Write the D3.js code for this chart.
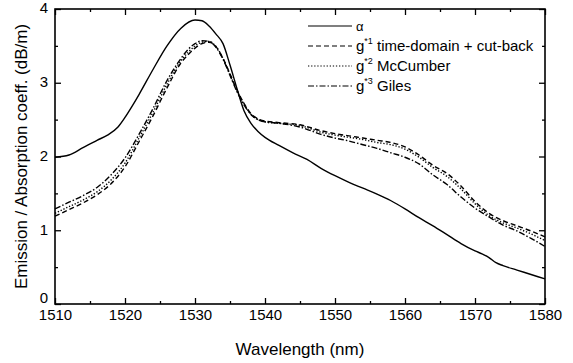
<!DOCTYPE html>
<html>
<head>
<meta charset="utf-8">
<script src="https://cdn.jsdelivr.net/npm/d3@7"></script>
<style>
  body { margin: 0; background: #fff; }
  svg text { font-family: "Liberation Sans", Arial, sans-serif; fill: #000; }
</style>
</head>
<body>
<div class="canvas"></div>
<script>
// wavelength grid of each curve (nm) and values (dB/m)
const alphaX = [1510, 1512, 1514, 1516, 1517.5, 1519, 1520, 1521, 1522, 1524, 1526, 1528, 1530, 1531, 1532, 1533, 1534, 1535, 1536, 1537, 1538, 1539, 1540, 1542, 1544, 1546, 1548, 1550, 1552, 1554, 1556, 1558, 1560, 1562, 1564, 1566, 1568, 1570, 1571, 1572, 1573, 1574, 1576, 1578, 1580];
const alphaY = [1.99, 2.02, 2.12, 2.22, 2.29, 2.40, 2.53, 2.68, 2.84, 3.18, 3.50, 3.74, 3.85, 3.84, 3.77, 3.66, 3.53, 3.24, 2.92, 2.62, 2.45, 2.34, 2.26, 2.15, 2.05, 1.96, 1.84, 1.74, 1.65, 1.57, 1.49, 1.40, 1.29, 1.17, 1.06, 0.94, 0.82, 0.72, 0.68, 0.63, 0.56, 0.52, 0.46, 0.40, 0.34];

const gX = [1510, 1512, 1514, 1516, 1518, 1520, 1522, 1524, 1526, 1528, 1529, 1530, 1531, 1532, 1533, 1534, 1535, 1536, 1537, 1538, 1539, 1540, 1542, 1545, 1548, 1550, 1552, 1554, 1556, 1558, 1560, 1562, 1564, 1566, 1568, 1570, 1572, 1574, 1576, 1578, 1580];
const g1Y = [1.19, 1.28, 1.37, 1.48, 1.63, 1.86, 2.20, 2.55, 2.93, 3.27, 3.38, 3.47, 3.53, 3.55, 3.49, 3.33, 3.12, 2.90, 2.72, 2.58, 2.51, 2.48, 2.46, 2.43, 2.35, 2.31, 2.28, 2.25, 2.22, 2.19, 2.13, 2.02, 1.88, 1.77, 1.60, 1.39, 1.23, 1.13, 1.06, 0.99, 0.91];
const g2Y = [1.23, 1.32, 1.41, 1.52, 1.68, 1.91, 2.25, 2.60, 2.98, 3.30, 3.41, 3.50, 3.55, 3.56, 3.49, 3.33, 3.11, 2.89, 2.71, 2.57, 2.50, 2.47, 2.45, 2.42, 2.33, 2.29, 2.26, 2.23, 2.19, 2.16, 2.10, 1.99, 1.85, 1.73, 1.56, 1.36, 1.20, 1.10, 1.03, 0.95, 0.86];
const g3Y = [1.29, 1.38, 1.47, 1.58, 1.75, 1.98, 2.30, 2.65, 3.03, 3.33, 3.45, 3.53, 3.57, 3.56, 3.48, 3.32, 3.10, 2.88, 2.70, 2.57, 2.50, 2.47, 2.45, 2.40, 2.30, 2.25, 2.21, 2.16, 2.11, 2.05, 1.99, 1.90, 1.75, 1.62, 1.45, 1.30, 1.18, 1.07, 0.99, 0.89, 0.78];

const xTicks = [1510, 1520, 1530, 1540, 1550, 1560, 1570, 1580];
const yTicks = [0, 1, 2, 3, 4];

const legendNames = ["α", "time-domain + cut-back", "McCumber", "Giles"];
const legendSup = ["", "*1", "*2", "*3"];

const svgWidth = 573, svgHeight = 363;
const margin = { top: 9, right: 28, bottom: 59, left: 55 };
const width = svgWidth - margin.left - margin.right;
const height = svgHeight - margin.top - margin.bottom;

const svg = d3.select(".canvas").append("svg")
  .attr("width", svgWidth)
  .attr("height", svgHeight);

const g = svg.append("g")
  .attr("transform", `translate(${margin.left},${margin.top})`);

const xScale = d3.scaleLinear().domain([1510, 1580]).range([0, width]);
const yScale = d3.scaleLinear().domain([0, 4]).range([height, 0]);

const xMinor = d3.range(1515, 1580, 10);
const yMinor = [0.5, 1.5, 2.5, 3.5];

// inward ticks on all four sides
function addAxis(axis, tx, ty) {
  const a = g.append("g").attr("transform", `translate(${tx},${ty})`).call(axis);
  a.select(".domain").remove();
  a.selectAll("line").attr("stroke", "#000").attr("stroke-width", 1.3);
  a.selectAll("text").style("font-size", "15px").attr("fill", "#000");
  return a;
}

addAxis(d3.axisBottom(xScale).tickValues(xTicks).tickSize(-6).tickPadding(5).tickFormat(d3.format("d")), 0, height);
addAxis(d3.axisBottom(xScale).tickValues(xMinor).tickSize(-3).tickFormat(""), 0, height);
addAxis(d3.axisTop(xScale).tickValues(xTicks).tickSize(-6).tickFormat(""), 0, 0);
addAxis(d3.axisTop(xScale).tickValues(xMinor).tickSize(-3).tickFormat(""), 0, 0);
const yAx = addAxis(d3.axisLeft(yScale).tickValues(yTicks).tickSize(-6).tickPadding(7).tickFormat(d3.format("d")), 0, 0);
// the "0" sits a little higher so it clears the 1510 label
yAx.selectAll("text").attr("dy", d => d === 0 ? "-0.1em" : "0.25em");
addAxis(d3.axisLeft(yScale).tickValues(yMinor).tickSize(-3).tickFormat(""), 0, 0);
addAxis(d3.axisRight(yScale).tickValues(yTicks).tickSize(-6).tickFormat(""), width, 0);
addAxis(d3.axisRight(yScale).tickValues(yMinor).tickSize(-3).tickFormat(""), width, 0);

g.append("rect")
  .attr("width", width).attr("height", height)
  .attr("fill", "none").attr("stroke", "#000").attr("stroke-width", 1.6);

// curves
const line = d3.line()
  .x(d => xScale(d[0]))
  .y(d => yScale(d[1]))
  .curve(d3.curveMonotoneX);

const series = [
  { pts: d3.zip(alphaX, alphaY), dash: null },
  { pts: d3.zip(gX, g1Y), dash: "5,3" },
  { pts: d3.zip(gX, g2Y), dash: "1.3,1.8" },
  { pts: d3.zip(gX, g3Y), dash: "6,2,1.5,2" }
];

g.selectAll(".curve")
  .data(series)
  .join("path")
  .attr("class", "curve")
  .attr("d", d => line(d.pts))
  .attr("fill", "none")
  .attr("stroke", "#000")
  .attr("stroke-width", 1.4)
  .attr("stroke-dasharray", d => d.dash);

// legend
const legendX = 308, legendY = 26, legendStep = 20;
const legend = svg.selectAll(".legend")
  .data(series)
  .join("g")
  .attr("class", "legend")
  .attr("transform", (d, i) => `translate(${legendX},${legendY + i * legendStep})`);

legend.append("line")
  .attr("x1", 0).attr("x2", 44)
  .attr("stroke", "#000").attr("stroke-width", 1.2)
  .attr("stroke-dasharray", d => d.dash);

legend.append("text")
  .attr("x", 48).attr("y", 5)
  .style("font-size", "15px")
  .each(function(d, i) {
    const t = d3.select(this);
    if (i === 0) { t.text(legendNames[0]).style("font-size", "13px"); return; }
    t.append("tspan").text("g");
    t.append("tspan").attr("dy", -7).style("font-size", "9px").text(legendSup[i]);
    t.append("tspan").attr("dy", 7).text(" " + legendNames[i]);
  });

// axis titles
svg.append("text")
  .attr("x", margin.left + width / 2).attr("y", 355)
  .attr("text-anchor", "middle")
  .style("font-size", "17px")
  .text("Wavelength (nm)");

svg.append("text")
  .attr("transform", `translate(27,${margin.top + height / 2}) rotate(-90)`)
  .attr("text-anchor", "middle")
  .style("font-size", "17px")
  .text("Emission / Absorption coeff. (dB/m)");
</script>
</body>
</html>
